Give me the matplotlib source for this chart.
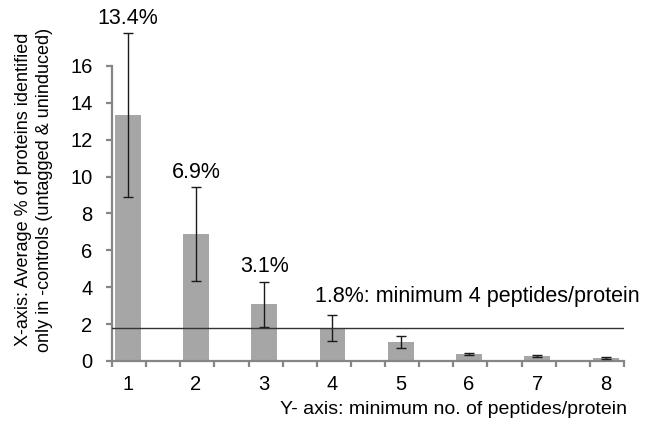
import matplotlib.pyplot as plt
import numpy as np

plt.rcParams['font.family'] = ['Liberation Sans', 'DejaVu Sans']

min_peptides = [1, 2, 3, 4, 5, 6, 7, 8]
avg_pct = [13.34, 6.89, 3.09, 1.8, 1.03, 0.38, 0.27, 0.16]
err = [4.45, 2.55, 1.22, 0.71, 0.33, 0.05, 0.03, 0.04]
bar_labels = {1: '13.4%', 2: '6.9%', 3: '3.1%'}
cutoff = 1.8
cutoff_label = '1.8%: minimum 4 peptides/protein'

fig = plt.figure(figsize=(6.45, 4.26), dpi=100)
ax = fig.add_axes([0.1736, 0.1526, 0.7938, 0.7793])

axis_grey = '#868686'
ax.bar(min_peptides, avg_pct, width=0.38, color='#a6a6a6', zorder=2)
ax.errorbar(min_peptides, avg_pct, yerr=err, fmt='none', ecolor='#1a1a1a',
            elinewidth=1, capsize=3.5, capthick=1, zorder=3)
ax.axhline(cutoff, color='#333333', lw=1, zorder=4)

ax.set_xlim(0.77, 8.25)
ax.set_ylim(0, 18)
ax.set_yticks(np.arange(0, 17, 2))
ax.spines['left'].set_bounds(0, 16)
for s in ['top', 'right']:
    ax.spines[s].set_visible(False)
for s in ['left', 'bottom']:
    ax.spines[s].set_color(axis_grey)
    ax.spines[s].set_linewidth(1.6)

# category labels without marks, tick marks every half category
ax.set_xticks(min_peptides)
ax.set_xticklabels([str(v) for v in min_peptides])
ax.tick_params(axis='x', length=0, pad=10, labelsize=14.5)
ax.set_xticks(np.arange(0.77, 8.3, 0.5), minor=True)
ax.tick_params(axis='x', which='minor', length=4, width=1.6, color=axis_grey)
ax.tick_params(axis='y', length=4, width=1.6, color=axis_grey, labelsize=14.5, pad=10)

for k, txt in bar_labels.items():
    i = min_peptides.index(k)
    ax.annotate(txt, (k, avg_pct[i] + err[i]), xytext=(0, 3), textcoords='offset points',
                ha='center', va='bottom', fontsize=15.5)
ax.annotate(cutoff_label, (3.74, cutoff), xytext=(0, 15), textcoords='offset points',
            ha='left', va='bottom', fontsize=15.5, annotation_clip=False)

fig.text(0.053, 0.555, 'X-axis: Average % of proteins identified\nonly in -controls (untagged & uninduced)',
         rotation=90, ha='center', va='center', fontsize=13, linespacing=1.35)
fig.text(0.972, 0.038, 'Y- axis: minimum no. of peptides/protein',
         ha='right', va='center', fontsize=14)

fig.savefig('out.png', dpi=100)
